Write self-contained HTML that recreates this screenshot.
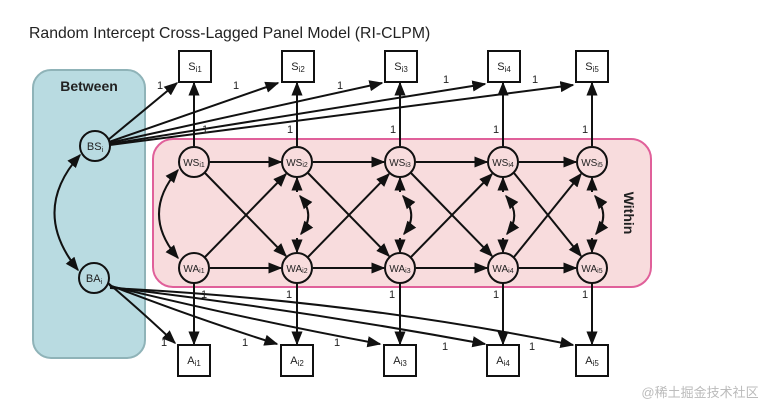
<!DOCTYPE html>
<html><head><meta charset="utf-8"><style>
body{margin:0;background:#fff}
svg{display:block;font-family:"Liberation Sans",sans-serif}
</style></head><body>
<svg width="781" height="408" viewBox="0 0 781 408" xmlns="http://www.w3.org/2000/svg">
<defs>
<marker id="a" viewBox="0 0 10 10" refX="9" refY="5" markerWidth="7" markerHeight="7" orient="auto-start-reverse"><path d="M0,1 L10,5 L0,9 z" fill="#111"/></marker>
</defs>
<text x="29" y="38" font-size="15.8" fill="#222">Random Intercept Cross-Lagged Panel Model (RI-CLPM)</text>
<rect x="33" y="70" width="112" height="288" rx="18" fill="#b9dbe1" stroke="#8fb3b8" stroke-width="2"/>
<text x="89" y="91" font-size="14" font-weight="bold" text-anchor="middle" fill="#222">Between</text>
<rect x="153" y="139" width="498" height="148" rx="20" fill="#f8dcdd" stroke="#e0609a" stroke-width="2"/>
<text transform="translate(624,213) rotate(90)" font-size="14" font-weight="bold" text-anchor="middle" fill="#222">Within</text>
<g stroke="#111" stroke-width="2" fill="none">
<line x1="108" y1="140" x2="177" y2="83" marker-end="url(#a)"/>
<line x1="109" y1="142" x2="278" y2="83" marker-end="url(#a)"/>
<line x1="109" y1="143" x2="382" y2="83" marker-end="url(#a)"/>
<line x1="110" y1="144" x2="485" y2="84" marker-end="url(#a)"/>
<line x1="110" y1="145" x2="573" y2="85" marker-end="url(#a)"/>
<path d="M108,283 Q140,310 175,343" marker-end="url(#a)"/>
<path d="M109,285 Q200,320 277,344" marker-end="url(#a)"/>
<path d="M110,286 Q250,320 380,344" marker-end="url(#a)"/>
<path d="M110,287 Q300,310 485,344" marker-end="url(#a)"/>
<path d="M110,288 Q350,300 573,345" marker-end="url(#a)"/>
<path d="M80,155 Q30,211 78,270" marker-start="url(#a)" marker-end="url(#a)"/>
<path d="M178,170 Q140,214 178,258" marker-start="url(#a)" marker-end="url(#a)"/>
</g>
<g stroke="#111" stroke-width="2" fill="none">
<line x1="194" y1="146" x2="194" y2="83" marker-end="url(#a)"/>
<line x1="297" y1="146" x2="297" y2="83" marker-end="url(#a)"/>
<line x1="400" y1="146" x2="400" y2="83" marker-end="url(#a)"/>
<line x1="503" y1="146" x2="503" y2="83" marker-end="url(#a)"/>
<line x1="592" y1="146" x2="592" y2="83" marker-end="url(#a)"/>
<line x1="194" y1="283" x2="194" y2="344" marker-end="url(#a)"/>
<line x1="297" y1="283" x2="297" y2="344" marker-end="url(#a)"/>
<line x1="400" y1="283" x2="400" y2="344" marker-end="url(#a)"/>
<line x1="503" y1="283" x2="503" y2="344" marker-end="url(#a)"/>
<line x1="592" y1="283" x2="592" y2="344" marker-end="url(#a)"/>
<line x1="210" y1="162" x2="281" y2="162" marker-end="url(#a)"/>
<line x1="313" y1="162" x2="384" y2="162" marker-end="url(#a)"/>
<line x1="416" y1="162" x2="487" y2="162" marker-end="url(#a)"/>
<line x1="519" y1="162" x2="576" y2="162" marker-end="url(#a)"/>
<line x1="210" y1="268" x2="281" y2="268" marker-end="url(#a)"/>
<line x1="313" y1="268" x2="384" y2="268" marker-end="url(#a)"/>
<line x1="416" y1="268" x2="487" y2="268" marker-end="url(#a)"/>
<line x1="519" y1="268" x2="576" y2="268" marker-end="url(#a)"/>
<line x1="205" y1="173" x2="286" y2="256" marker-end="url(#a)"/>
<line x1="205" y1="257" x2="286" y2="174" marker-end="url(#a)"/>
<line x1="308" y1="173" x2="389" y2="256" marker-end="url(#a)"/>
<line x1="308" y1="257" x2="389" y2="174" marker-end="url(#a)"/>
<line x1="411" y1="173" x2="492" y2="256" marker-end="url(#a)"/>
<line x1="411" y1="257" x2="492" y2="174" marker-end="url(#a)"/>
<line x1="514" y1="173" x2="581" y2="256" marker-end="url(#a)"/>
<line x1="514" y1="257" x2="581" y2="174" marker-end="url(#a)"/>
<g id="rc">
<line x1="297" y1="192" x2="297" y2="178" marker-end="url(#a)"/>
<line x1="297" y1="238" x2="297" y2="252" marker-end="url(#a)"/>
<path d="M300,196 Q316,215 301,234" marker-start="url(#a)" marker-end="url(#a)"/>
</g>
<use href="#rc" x="103"/>
<use href="#rc" x="206"/>
<use href="#rc" x="295"/>
</g>
<g fill="#f8dcdd" stroke="#111" stroke-width="2">
<circle cx="194" cy="162" r="15"/><circle cx="297" cy="162" r="15"/><circle cx="400" cy="162" r="15"/><circle cx="503" cy="162" r="15"/><circle cx="592" cy="162" r="15"/>
<circle cx="194" cy="268" r="15"/><circle cx="297" cy="268" r="15"/><circle cx="400" cy="268" r="15"/><circle cx="503" cy="268" r="15"/><circle cx="592" cy="268" r="15"/>
</g>
<g fill="#b9dbe1" stroke="#111" stroke-width="2">
<circle cx="95" cy="146" r="15"/><circle cx="94" cy="278" r="15"/>
</g>
<g fill="#fff" stroke="#111" stroke-width="2">
<rect x="179" y="51" width="32" height="31"/><rect x="282" y="51" width="32" height="31"/><rect x="385" y="51" width="32" height="31"/><rect x="488" y="51" width="32" height="31"/><rect x="576" y="51" width="32" height="31"/>
<rect x="178" y="345" width="32" height="31"/><rect x="281" y="345" width="32" height="31"/><rect x="384" y="345" width="32" height="31"/><rect x="487" y="345" width="32" height="31"/><rect x="576" y="345" width="32" height="31"/>
</g>
<g font-size="11" fill="#222" text-anchor="middle">
<text x="95" y="150">BS<tspan font-size="7" dy="2">i</tspan></text>
<text x="94" y="282">BA<tspan font-size="7" dy="2">i</tspan></text>
<g font-size="10">
<text x="194" y="166">WS<tspan font-size="7" dy="1">i1</tspan></text><text x="297" y="166">WS<tspan font-size="7" dy="1">i2</tspan></text><text x="400" y="166">WS<tspan font-size="7" dy="1">i3</tspan></text><text x="503" y="166">WS<tspan font-size="7" dy="1">i4</tspan></text><text x="592" y="166">WS<tspan font-size="7" dy="1">i5</tspan></text>
<text x="194" y="272">WA<tspan font-size="7" dy="1">i1</tspan></text><text x="297" y="272">WA<tspan font-size="7" dy="1">i2</tspan></text><text x="400" y="272">WA<tspan font-size="7" dy="1">i3</tspan></text><text x="503" y="272">WA<tspan font-size="7" dy="1">i4</tspan></text><text x="592" y="272">WA<tspan font-size="7" dy="1">i5</tspan></text>
</g>
<text x="195" y="70">S<tspan font-size="8" dy="2">i1</tspan></text><text x="298" y="70">S<tspan font-size="8" dy="2">i2</tspan></text><text x="401" y="70">S<tspan font-size="8" dy="2">i3</tspan></text><text x="504" y="70">S<tspan font-size="8" dy="2">i4</tspan></text><text x="592" y="70">S<tspan font-size="8" dy="2">i5</tspan></text>
<text x="194" y="364">A<tspan font-size="8" dy="2">i1</tspan></text><text x="297" y="364">A<tspan font-size="8" dy="2">i2</tspan></text><text x="400" y="364">A<tspan font-size="8" dy="2">i3</tspan></text><text x="503" y="364">A<tspan font-size="8" dy="2">i4</tspan></text><text x="592" y="364">A<tspan font-size="8" dy="2">i5</tspan></text>
<g font-size="11">
<text x="160" y="89">1</text><text x="236" y="89">1</text><text x="340" y="89">1</text><text x="446" y="83">1</text><text x="535" y="83">1</text>
<text x="205" y="133">1</text><text x="290" y="133">1</text><text x="393" y="133">1</text><text x="496" y="133">1</text><text x="585" y="133">1</text>
<text x="204" y="298">1</text><text x="289" y="298">1</text><text x="392" y="298">1</text><text x="496" y="298">1</text><text x="585" y="298">1</text>
<text x="164" y="346">1</text><text x="245" y="346">1</text><text x="337" y="346">1</text><text x="445" y="350">1</text><text x="532" y="350">1</text>
</g>
</g>
<text x="700" y="397" font-size="13" fill="#bbb" text-anchor="middle" font-family="'Liberation Sans','Noto Sans CJK SC',sans-serif">@稀土掘金技术社区</text>
</svg>
</body></html>
